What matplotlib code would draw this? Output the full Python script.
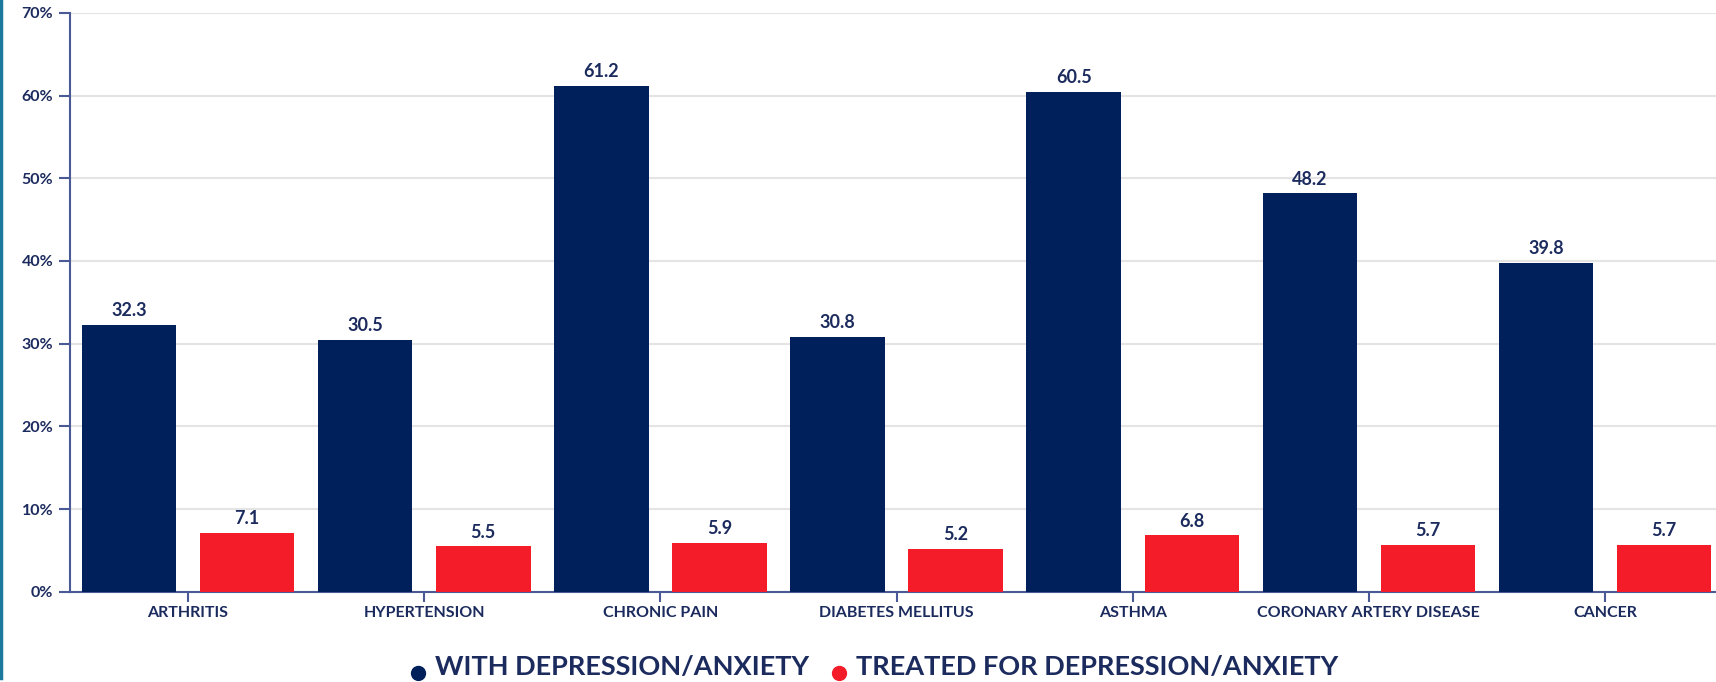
import matplotlib
matplotlib.use('Agg')
import matplotlib.pyplot as plt
from matplotlib.lines import Line2D
from matplotlib.path import Path
from matplotlib.ticker import FuncFormatter
import numpy as np

plt.rcParams['font.family'] = ['Lato', 'DejaVu Sans']

conditions = ['ARTHRITIS', 'HYPERTENSION', 'CHRONIC PAIN', 'DIABETES MELLITUS',
              'ASTHMA', 'CORONARY ARTERY DISEASE', 'CANCER']
with_dep = [32.3, 30.5, 61.2, 30.8, 60.5, 48.2, 39.8]
treated = [7.1, 5.5, 5.9, 5.2, 6.8, 5.7, 5.7]
series_labels = ['WITH DEPRESSION/ANXIETY', 'TREATED FOR DEPRESSION/ANXIETY']

NAVY = '#00205c'
RED = '#f41c29'
TEXT = '#1c2b5e'
AXIS = '#4a5a96'

fig = plt.figure(figsize=(17.16, 6.82), dpi=100)
ax = fig.add_axes([0.0408, 0.1324, 0.9592, 0.8486])

x = np.arange(len(conditions))
w = 0.40
b1 = ax.bar(x - 0.25, with_dep, w, color=NAVY, zorder=3)
b2 = ax.bar(x + 0.25, treated, w, color=RED, zorder=3)

for bars, vals in ((b1, with_dep), (b2, treated)):
    for bar, v in zip(bars, vals):
        ax.annotate(f'{v:.1f}', (bar.get_x() + bar.get_width() / 2, v),
                    xytext=(0, 4), textcoords='offset points',
                    ha='center', va='bottom', fontsize=13,
                    fontweight='bold', color=TEXT)

ax.set_xlim(-0.5, 6.47)
ax.set_ylim(0, 70)
ax.set_yticks(np.arange(0, 71, 10))
ax.yaxis.set_major_formatter(FuncFormatter(lambda v, p: f'{v:.0f}%'))
ax.set_xticks(x)
ax.set_xticklabels(conditions)

ax.grid(axis='y', color='#e4e4e4', linewidth=1.5, zorder=0)
for side in ('top', 'right'):
    ax.spines[side].set_visible(False)
for side in ('left', 'bottom'):
    ax.spines[side].set_color(AXIS)
    ax.spines[side].set_linewidth(1.5)

ax.tick_params(axis='y', length=8, width=1.5, color=AXIS, pad=4,
               labelsize=11.5, labelcolor=TEXT)
ax.tick_params(axis='x', length=7, width=1.5, color=AXIS, pad=3,
               labelsize=11.5, labelcolor=TEXT)
for lbl in ax.get_xticklabels() + ax.get_yticklabels():
    lbl.set_fontweight('bold')

# legend dot sits low, near the text baseline
circ = Path.unit_circle()
low_dot = Path(circ.vertices + [0, -1.0], circ.codes)
handles = [Line2D([], [], marker=low_dot, linestyle='none', markersize=20,
                  color=c) for c in (NAVY, RED)]
leg = fig.legend(handles, series_labels, loc='center', bbox_to_anchor=(0.51, 0.022),
                 ncol=2, frameon=False, handlelength=0.45, handletextpad=0.4,
                 columnspacing=0.9, prop={'size': 19.5, 'weight': 'bold'})
for t in leg.get_texts():
    t.set_color(TEXT)

# thin accent bar on the left edge
fig.add_artist(Line2D([0.0008, 0.0008], [0.006, 1.0], transform=fig.transFigure,
                      color='#1b7a9b', linewidth=2.5))

fig.savefig('out.png', dpi=100)
